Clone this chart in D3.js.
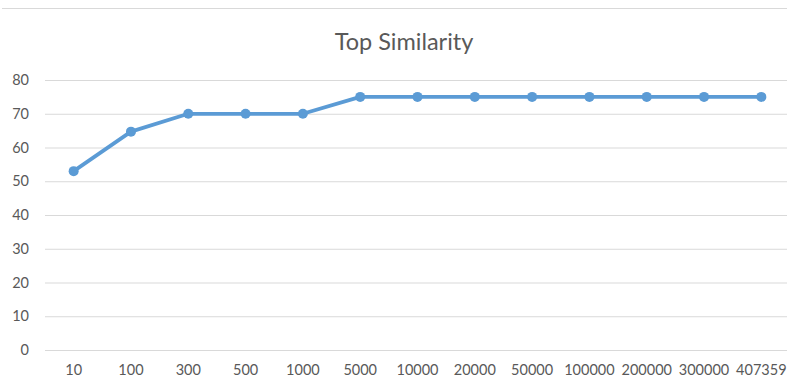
<!DOCTYPE html>
<html><head><meta charset="utf-8">
<script src="https://cdn.jsdelivr.net/npm/d3@7"></script>
<style>body{margin:0;background:#fff;overflow:hidden}svg{display:block}</style>
</head><body>
<script>
const categories = ["10","100","300","500","1000","5000","10000","20000","50000","100000","200000","300000","407359"];
const values = [53, 64.7, 70, 70, 70, 75, 75, 75, 75, 75, 75, 75, 75];
const yTicks = [0,10,20,30,40,50,60,70,80];
const title = "Top Similarity";

const W = 787, H = 381;
const svg = d3.select("body").append("svg").attr("width", W).attr("height", H);
const font = "Lato, 'Open Sans', sans-serif";

svg.append("line").attr("x1", 2).attr("x2", W).attr("y1", 8.5).attr("y2", 8.5)
  .attr("stroke", "#d9d9d9").attr("stroke-width", 1);

const x = d3.scaleBand().domain(categories).range([45, 790]);
const y = d3.scaleLinear().domain([0, 80]).range([350, 80]);

svg.append("text").attr("x", 404).attr("y", 50).attr("text-anchor", "middle")
  .attr("font-family", font).attr("font-size", 23.5).attr("fill", "#595959").text(title);

const gy = svg.append("g").attr("transform", "translate(45,0)")
  .call(d3.axisLeft(y).tickValues(yTicks).tickSize(-(W - 45)).tickPadding(16));
gy.select(".domain").remove();
gy.selectAll(".tick line").attr("stroke", "#d9d9d9").attr("stroke-width", 1);
gy.selectAll(".tick text").attr("font-family", font).attr("font-size", 14.5).attr("fill", "#595959");

const gx = svg.append("g").attr("transform", "translate(0,350)")
  .call(d3.axisBottom(x).tickSize(0).tickPadding(15));
gx.select(".domain").remove();
gx.selectAll(".tick text").attr("font-family", font).attr("font-size", 14.5).attr("fill", "#595959");

const cx = d => x(d) + x.bandwidth() / 2;
svg.append("path").datum(values)
  .attr("fill", "none").attr("stroke", "#5B9BD5").attr("stroke-width", 3.75)
  .attr("stroke-linejoin", "round")
  .attr("d", d3.line().x((d, i) => cx(categories[i])).y(d => y(d)));
svg.selectAll("circle.pt").data(values).enter().append("circle")
  .attr("class", "pt").attr("cx", (d, i) => cx(categories[i])).attr("cy", d => y(d))
  .attr("r", 5).attr("fill", "#5B9BD5");
</script>
</body></html>
